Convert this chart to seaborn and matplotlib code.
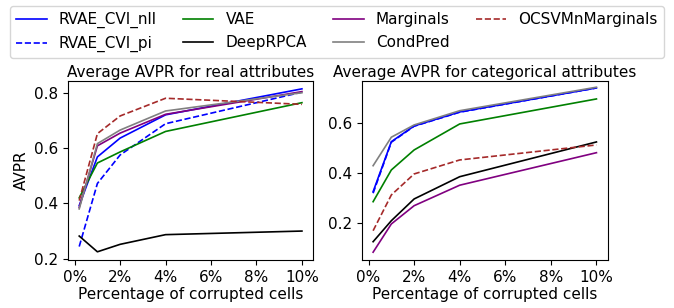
import pandas as pd
import matplotlib
matplotlib.use("Agg")
import matplotlib.pyplot as plt
import matplotlib.ticker as mticker
import seaborn as sns

# percentage of corrupted cells
pct = [0.2, 1, 2, 4, 10]

methods = ["RVAE_CVI_nll", "RVAE_CVI_pi", "VAE", "DeepRPCA",
           "Marginals", "CondPred", "OCSVMnMarginals"]

# average AVPR, real attributes
real_nll = [0.392, 0.568, 0.636, 0.720, 0.814]
real_pi = [0.244, 0.472, 0.575, 0.688, 0.802]
real_vae = [0.420, 0.546, 0.586, 0.660, 0.764]
real_rpca = [0.282, 0.225, 0.252, 0.287, 0.300]
real_marg = [0.385, 0.608, 0.654, 0.722, 0.804]
real_cond = [0.380, 0.616, 0.665, 0.734, 0.800]
real_ocsvm = [0.410, 0.652, 0.716, 0.780, 0.758]

# average AVPR, categorical attributes
cat_nll = [0.326, 0.526, 0.589, 0.645, 0.741]
cat_pi = [0.320, 0.524, 0.588, 0.644, 0.741]
cat_vae = [0.286, 0.413, 0.493, 0.597, 0.697]
cat_rpca = [0.126, 0.210, 0.297, 0.386, 0.525]
cat_marg = [0.084, 0.197, 0.270, 0.352, 0.482]
cat_cond = [0.430, 0.544, 0.593, 0.650, 0.744]
cat_ocsvm = [0.170, 0.313, 0.397, 0.453, 0.513]

colors = {"RVAE_CVI_nll": "blue", "RVAE_CVI_pi": "blue", "VAE": "green",
          "DeepRPCA": "black", "Marginals": "purple", "CondPred": "grey",
          "OCSVMnMarginals": "brown"}
dashes = {m: "" for m in methods}
dashes["RVAE_CVI_pi"] = (3.7, 1.6)
dashes["OCSVMnMarginals"] = (3.7, 1.6)


def long_df(series):
    rows = []
    for m, vals in zip(methods, series):
        for x, v in zip(pct, vals):
            rows.append({"pct": x, "AVPR": v, "method": m})
    return pd.DataFrame(rows)


df_real = long_df([real_nll, real_pi, real_vae, real_rpca, real_marg, real_cond, real_ocsvm])
df_cat = long_df([cat_nll, cat_pi, cat_vae, cat_rpca, cat_marg, cat_cond, cat_ocsvm])

plt.rcParams["font.family"] = ["DejaVu Sans"]
fig = plt.figure(figsize=(6.74, 3.08), dpi=100)
ax1 = fig.add_axes([0.101, 0.156, 0.3635, 0.582])
ax2 = fig.add_axes([0.537, 0.156, 0.3645, 0.582])

for ax, df, title in [(ax1, df_real, "Average AVPR for real attributes"),
                      (ax2, df_cat, "Average AVPR for categorical attributes")]:
    sns.lineplot(data=df, x="pct", y="AVPR", hue="method", style="method",
                 palette=colors, dashes=dashes, hue_order=methods,
                 style_order=methods, linewidth=1.2, ax=ax, legend=(ax is ax1))
    ax.set_title(title, fontsize=11, pad=3)
    ax.set_xlabel("Percentage of corrupted cells", fontsize=11, labelpad=2)
    ax.xaxis.set_major_formatter(mticker.FormatStrFormatter("%d%%"))
    ax.set_xticks([0, 2, 4, 6, 8, 10])
    ax.tick_params(labelsize=11)

ax1.set_ylabel("AVPR", fontsize=11)
ax2.set_ylabel("")
ax1.set_yticks([0.2, 0.4, 0.6, 0.8])
ax2.set_yticks([0.2, 0.4, 0.6])
ax2.set_ylim(0.053, 0.77)

handles, labels = ax1.get_legend_handles_labels()
ax1.get_legend().remove()
fig.legend(handles, labels, loc="upper center", bbox_to_anchor=(0.5, 0.99),
           ncol=4, fontsize=11, borderaxespad=0.2, columnspacing=1.7)

fig.savefig("out.png", dpi=100)
